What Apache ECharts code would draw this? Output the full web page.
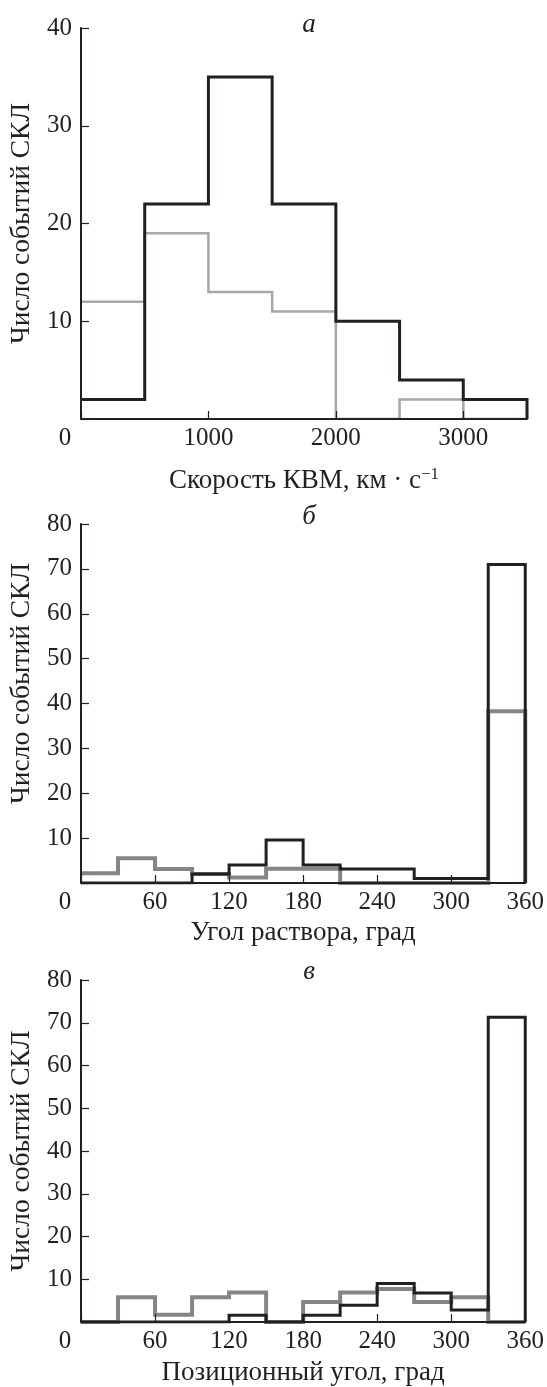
<!DOCTYPE html>
<html>
<head>
<meta charset="utf-8">
<script src="https://cdn.jsdelivr.net/npm/echarts@6/dist/echarts.min.js"></script>
<style>
html,body{margin:0;padding:0;background:#fff;}
#c{width:547px;height:1387px;}
</style>
</head>
<body>
<div id="c"></div>
<script>
// ---- Data ----
// Panel a: CME speed, bins of 500 km/s starting at these edges
const speedEdges = [0, 500, 1000, 1500, 2000, 2500, 3000, 3500];
const speedBlack = [2, 22, 35, 22, 10, 4, 2];
const speedGray  = [12, 19, 13, 11, 0, 2, 0];

// Panel b: opening angle, bins of 30 deg
const angleEdges = [0, 30, 60, 90, 120, 150, 180, 210, 240, 270, 300, 330, 360];
const widthBlack = [0, 0, 0, 2, 4, 9.6, 4, 3.1, 3.1, 1, 1, 71];
const widthGray  = [2.2, 5.5, 3.1, 2, 1.2, 3.2, 3.2, 0, 0, 0, 0, 38.3];

// Panel c: position angle, bins of 30 deg
const paBlack = [0, 0, 0, 0, 1.6, 0, 1.6, 3.9, 9, 6.8, 2.8, 71.3];
const paGray  = [0, 5.8, 1.7, 5.8, 6.9, 0, 4.7, 6.9, 7.7, 4.7, 5.8, 0];

// Tick labels / texts
const yName = 'Число событий СКЛ';
const panelTitles = ['а', 'б', 'в'];
const xNames = ['{n|Скорость КВМ, км · с}{s|−1}', 'Угол раствора, град', 'Позиционный угол, град'];

// Build step outline points from bin edges and values
function stepData(edges, vals) {
  const pts = vals.map((v, i) => [edges[i], v]);
  pts.push([edges[edges.length - 1], 0]);
  return pts;
}

const FONT = 'Liberation Serif';
const TXT = '#231f20';
const BLACK = '#231f20';

const grids = [
  {left: 81, right: 20, top: 28, height: 391},
  {left: 81, right: 20, top: 524, height: 359},
  {left: 81, right: 20, top: 980, height: 344}
];

function xAxis(idx, max, interval, nameGap) {
  return {
    type: 'value', gridIndex: idx, min: 0, max: max, interval: interval, z: 5,
    name: xNames[idx], nameLocation: 'middle', nameGap: nameGap,
    nameTextStyle: {
      fontFamily: FONT, fontSize: 27, color: TXT,
      rich: {
        n: {fontFamily: FONT, fontSize: 27, color: TXT},
        s: {fontFamily: FONT, fontSize: 17, color: TXT, verticalAlign: 'top', padding: [0, 0, 12, 0]}
      }
    },
    axisLine: {show: true, onZero: false, lineStyle: {color: BLACK, width: 2}},
    axisTick: {show: true, inside: true, length: 8, lineStyle: {color: BLACK, width: 1.2}},
    splitLine: {show: false},
    axisLabel: {
      fontFamily: FONT, fontSize: 25, color: TXT, margin: 7,
      showMaxLabel: true,
      formatter: function (v) {
        if (v === 0) return '{z|0}';
        if (v === max && max % interval !== 0) return '';
        return String(v);
      },
      rich: {z: {fontFamily: FONT, fontSize: 25, color: TXT, padding: [0, 32, 0, 0]}}
    }
  };
}

function yAxis(idx, max, namePad) {
  return {
    type: 'value', gridIndex: idx, min: 0, max: max, interval: 10, z: 5,
    name: yName, nameLocation: 'middle', nameGap: 44,
    nameTextStyle: {fontFamily: FONT, fontSize: 27.5, color: TXT, padding: namePad},
    axisLine: {show: true, onZero: false, lineStyle: {color: BLACK, width: 2}},
    axisTick: {show: true, inside: true, length: 8, lineStyle: {color: BLACK, width: 1.2}},
    splitLine: {show: false},
    axisLabel: {
      fontFamily: FONT, fontSize: 25, color: TXT, margin: 9,
      formatter: v => (v === 0 ? '' : String(v))
    }
  };
}

function line(idx, data, color, width, z) {
  return {
    type: 'line', xAxisIndex: idx, yAxisIndex: idx, data: data, step: 'end',
    showSymbol: false, symbol: 'none', silent: true, z: z,
    lineStyle: {color: color, width: width, join: 'miter', cap: 'butt'}
  };
}

const option = {
  animation: false,
  backgroundColor: '#fff',
  title: [
    {text: panelTitles[0], left: 304, top: 6, textAlign: 'center', textStyle: {fontFamily: FONT, fontStyle: 'italic', fontWeight: 'normal', fontSize: 27, color: TXT}},
    {text: panelTitles[1], left: 304, top: 498, textAlign: 'center', textStyle: {fontFamily: FONT, fontStyle: 'italic', fontWeight: 'normal', fontSize: 27, color: TXT}},
    {text: panelTitles[2], left: 304, top: 953, textAlign: 'center', textStyle: {fontFamily: FONT, fontStyle: 'italic', fontWeight: 'normal', fontSize: 27, color: TXT}}
  ],
  grid: grids,
  xAxis: [xAxis(0, 3500, 1000, 47), xAxis(1, 360, 60, 36), xAxis(2, 360, 60, 37)],
  yAxis: [yAxis(0, 40, [0, 0, 0, 0]), yAxis(1, 80, [0, 0, 0, 40]), yAxis(2, 80, [0, 0, 0, 0])],
  series: [
    line(0, stepData(speedEdges, speedGray), '#a8a8a8', 2.6, 2),
    line(0, stepData(speedEdges, speedBlack), BLACK, 3, 3),
    line(1, stepData(angleEdges, widthGray), '#858585', 4, 2),
    line(1, stepData(angleEdges, widthBlack), BLACK, 3, 3),
    line(2, stepData(angleEdges, paGray), '#858585', 4, 2),
    line(2, stepData(angleEdges, paBlack), BLACK, 3, 3)
  ]
};

const chart = echarts.init(document.getElementById('c'), null, {renderer: 'canvas'});
chart.setOption(option);
</script>
</body>
</html>
